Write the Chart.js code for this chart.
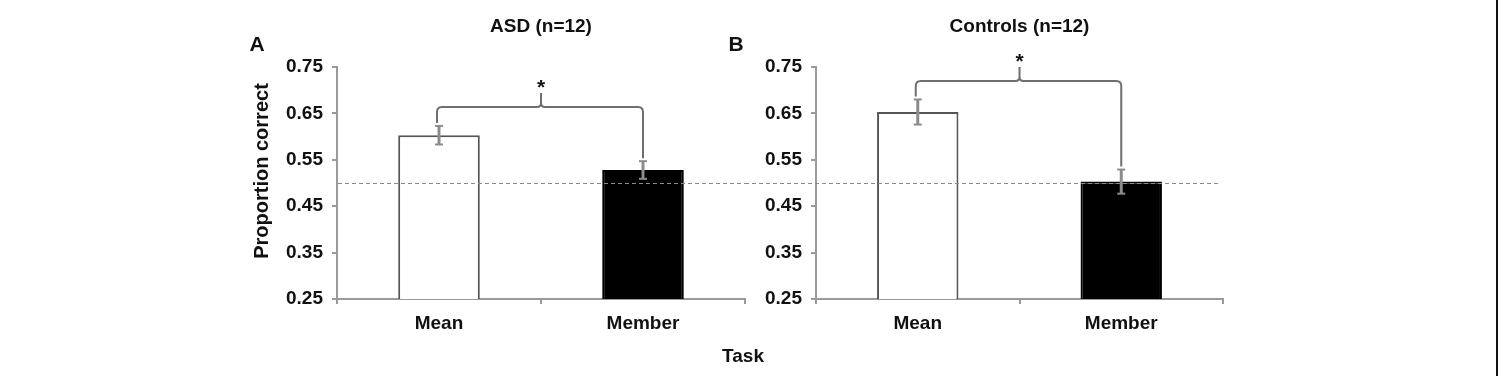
<!DOCTYPE html>
<html>
<head>
<meta charset="utf-8">
<script src="https://cdn.jsdelivr.net/npm/chart.js@4.4.1/dist/chart.umd.min.js"></script>
<style>
    html, body { margin: 0; padding: 0; background: #fff; }
    #wrap { position: relative; width: 1504px; height: 376px; overflow: hidden; }
    #wrap canvas { position: absolute; left: 0; top: 0; }
    #frame { position: absolute; left: 1496px; top: 0; width: 2px; height: 376px; background: #111; }
</style>
</head>
<body>
<div id="wrap">
    <canvas id="chartA" width="1504" height="376"></canvas>
    <canvas id="chartB" width="1504" height="376"></canvas>
    <div id="frame"></div>
</div>
<script>
// ---------------- DONNEES ----------------
const tasks = ['Mean', 'Member'];
const yTicks = [0.25, 0.35, 0.45, 0.55, 0.65, 0.75];
const chance = 0.5;

const asdValues = [0.603, 0.528];
const asdErrors = [0.020, 0.019];
const asdBracket = 0.664;

const controlValues = [0.653, 0.503];
const controlErrors = [0.027, 0.026];
const controlBracket = 0.720;

const FONT = '"Liberation Sans", Arial, sans-serif';
Chart.defaults.font.family = FONT;

// ---------------- PLUGIN : ligne de hasard, barres d'erreur, accolade ----------------
const panelDecor = {
    id: 'panelDecor',
    afterDatasetsDraw(chart, args, opts) {
        const { ctx, chartArea: a, scales: { y } } = chart;
        const meta = chart.getDatasetMeta(0);
        const vals = chart.data.datasets[0].data;
        const line = (x1, y1, x2, y2) => { ctx.beginPath(); ctx.moveTo(x1, y1); ctx.lineTo(x2, y2); ctx.stroke(); };
        ctx.save();

        // ligne pointillée 0.5
        const yc = Math.round(y.getPixelForValue(chance)) + 0.5;
        ctx.strokeStyle = '#8a8a8a';
        ctx.lineWidth = 1;
        ctx.setLineDash([4, 3]);
        line(a.left + opts.lineFrom, yc, a.right + opts.lineTo, yc);
        ctx.setLineDash([]);

        // barres d'erreur
        const tops = [];
        ctx.strokeStyle = '#8c8c8c';
        opts.errors.forEach((e, i) => {
            const cx = meta.data[i].x;
            const top = y.getPixelForValue(vals[i] + e);
            const bot = y.getPixelForValue(vals[i] - e);
            tops.push(top);
            ctx.lineWidth = 3;
            line(cx, top, cx, bot);
            ctx.lineWidth = 2;
            line(cx - 4, top, cx + 4, top);
            line(cx - 4, bot, cx + 4, bot);
        });

        // accolade de significativité
        const xl = meta.data[0].x - 2;
        const xr = meta.data[1].x;
        const yb = y.getPixelForValue(opts.bracket);
        const mid = (xl + xr) / 2 + 1;
        const r = 5;
        ctx.strokeStyle = '#6f6f6f';
        ctx.lineWidth = 2;
        ctx.beginPath();
        ctx.moveTo(xl, tops[0] - 3);
        ctx.lineTo(xl, yb + r);
        ctx.quadraticCurveTo(xl, yb, xl + r, yb);
        ctx.lineTo(mid - 4, yb);
        ctx.quadraticCurveTo(mid, yb, mid, yb - 4);
        ctx.lineTo(mid, yb - 14);
        ctx.moveTo(mid, yb - 4);
        ctx.quadraticCurveTo(mid, yb, mid + 4, yb);
        ctx.lineTo(xr - r, yb);
        ctx.quadraticCurveTo(xr, yb, xr, yb + r);
        ctx.lineTo(xr, tops[1] - 3);
        ctx.stroke();

        ctx.fillStyle = '#111';
        ctx.textAlign = 'center';
        ctx.textBaseline = 'alphabetic';
        ctx.font = 'bold 21px ' + FONT;
        ctx.fillText('*', mid, yb - 13);

        // titres
        ctx.textBaseline = 'middle';
        ctx.font = 'bold 19px ' + FONT;
        ctx.fillText(opts.title, (a.left + a.right) / 2, 27);
        ctx.font = 'bold 21px ' + FONT;
        ctx.fillText(opts.letter, a.left - 80, 45);
        if (opts.xTitle) {
            ctx.font = 'bold 19px ' + FONT;
            ctx.fillText(opts.xTitle, a.right - 2, 357);
        }
        if (opts.yTitle) {
            ctx.font = 'bold 20px ' + FONT;
            ctx.translate(a.left - 75, (a.top + a.bottom) / 2 - 12);
            ctx.rotate(-Math.PI / 2);
            ctx.fillText(opts.yTitle, 0, 0);
        }
        ctx.restore();
    }
};

function makePanel(id, values, errors, bracket, deco, pad, yWidth) {
    return new Chart(document.getElementById(id), {
        type: 'bar',
        data: {
            labels: tasks,
            datasets: [{
                data: values,
                backgroundColor: ['#ffffff', '#000000'],
                borderColor: ['#555555', '#000000'],
                borderWidth: 2,
                categoryPercentage: 1,
                barPercentage: 0.4
            }]
        },
        options: {
            responsive: false,
            animation: false,
            layout: { padding: pad },
            plugins: {
                legend: { display: false },
                tooltip: { enabled: false },
                panelDecor: Object.assign({ errors, bracket }, deco)
            },
            scales: {
                x: {
                    grid: { drawOnChartArea: false, tickLength: 5, offset: true, color: '#9a9a9a', lineWidth: 2 },
                    border: { color: '#9a9a9a', width: 2 },
                    ticks: { color: '#111', font: { size: 19, weight: 'bold' }, padding: 8 },
                    afterFit(s) { s.height = 77; }
                },
                y: {
                    min: 0.25,
                    max: 0.75,
                    afterBuildTicks(s) { s.ticks = yTicks.map(v => ({ value: v })); },
                    grid: { drawOnChartArea: false, tickLength: 5, color: '#9a9a9a', lineWidth: 2 },
                    border: { color: '#9a9a9a', width: 2 },
                    ticks: { color: '#111', font: { size: 19, weight: 'bold' }, padding: 9, callback: v => v.toFixed(2) },
                    afterFit(s) { s.width = yWidth; }
                }
            }
        },
        plugins: [panelDecor]
    });
}

makePanel('chartA', asdValues, asdErrors, asdBracket,
    { title: 'ASD (n=12)', letter: 'A', xTitle: 'Task', yTitle: 'Proportion correct', lineFrom: 1, lineTo: 0 },
    { left: 247, right: 759, top: 67, bottom: 0 }, 90);

makePanel('chartB', controlValues, controlErrors, controlBracket,
    { title: 'Controls (n=12)', letter: 'B', xTitle: null, yTitle: null, lineFrom: -71, lineTo: -5 },
    { left: 740, right: 281, top: 67, bottom: 0 }, 76);
</script>
</body>
</html>
